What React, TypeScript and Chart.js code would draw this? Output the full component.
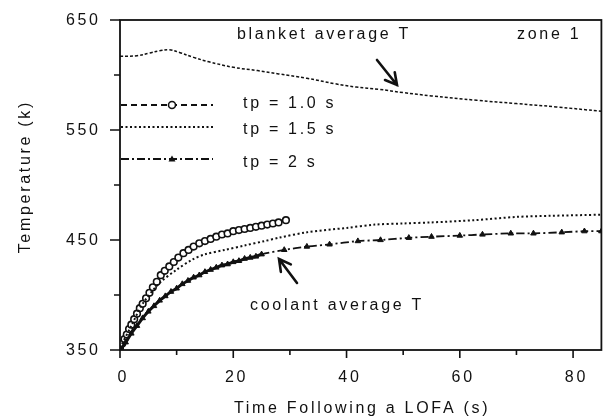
import React, { useEffect, useRef } from "react";
import { Chart, registerables } from "chart.js";

Chart.register(...registerables);

// ---- data ----
const blanketTime = [0, 3, 5.2, 7, 8.7, 10.5, 13, 15.7, 20, 24.3, 28, 33, 38, 41.7, 45.7, 50, 55, 63, 70, 77, 85];
const blanketTemp = [617, 617.5, 620, 622, 623, 620.5, 616, 612, 607, 604, 601, 597, 592, 589, 587, 584, 581, 577, 574, 571, 567];

const tp10Time = [0, 0.4, 0.8, 1.2, 1.6, 2.0, 2.5, 3.0, 3.5, 4.0, 4.6, 5.2, 5.8, 6.5, 7.2, 7.9, 8.7, 9.5, 10.3, 11.2, 12.1, 13, 14, 15, 16, 17, 18, 19, 20, 21, 22, 23, 24, 25, 26, 27, 28, 29.3];
const tp10Temp = [352, 356, 360, 364, 369, 373, 378, 383, 388, 392, 397, 402, 407, 412, 418, 422, 426, 430, 434, 438, 441, 444, 447, 449, 451, 453, 455, 456, 458, 459, 460, 461, 462, 463, 464, 465, 466, 468];

const tp15Time = [0, 2, 4, 7, 10, 12.7, 15, 18.5, 22, 25.5, 28, 33, 40, 45, 50, 55, 62.6, 70, 76, 85];
const tp15Temp = [352, 372, 392, 411, 423, 432, 437, 441, 445, 449, 452, 457, 461, 464, 465, 466, 468, 471, 472, 473];

const tp20Time = [0, 1, 2, 3, 4, 5, 6, 7, 8, 9, 10, 11, 12, 13, 14, 15, 16, 17, 18, 19, 20, 21, 22, 23, 24, 25, 29, 33, 37, 42, 46, 51, 55, 60, 64, 69, 73, 78, 82, 85];
const tp20Temp = [350, 357, 365, 372, 379, 385, 390, 395, 399, 403, 406, 410, 413, 416, 418, 421, 423, 425, 427, 428, 430, 431, 433, 434, 435, 437, 441, 444, 446, 449, 450, 452, 453, 454, 455, 456, 456, 457, 458, 458];
const tp20DenseUntil = 25;

const xMajorTicks = [0, 20, 40, 60, 80];
const xMinorTicks = [10, 30, 50, 70];
const yMajorTicks = [350, 450, 550, 650];
const yMinorTicks = [400, 500, 600];

const legendLabels = ["tp = 1.0 s", "tp = 1.5 s", "tp = 2 s"];
const xTitle = "Time Following a LOFA (s)";
const yTitle = "Temperature (k)";
const blanketNote = "blanket average T";
const coolantNote = "coolant average T";
const zoneNote = "zone 1";

const INK = "#111";
const FONT = '16px "Liberation Sans", Arial, sans-serif';
const LS = 2.7;

const pts = (xs: number[], ys: number[]) => xs.map((x, i) => ({ x, y: ys[i] }));

function drawArrow(ctx: CanvasRenderingContext2D, x0: number, y0: number, x1: number, y1: number) {
  const a = Math.atan2(y1 - y0, x1 - x0);
  const h = 13;
  ctx.save();
  ctx.strokeStyle = INK;
  ctx.lineWidth = 2.6;
  ctx.lineCap = "round";
  ctx.setLineDash([]);
  ctx.beginPath();
  ctx.moveTo(x0, y0);
  ctx.lineTo(x1, y1);
  ctx.moveTo(x1 + h * Math.cos(a + Math.PI - 0.5), y1 + h * Math.sin(a + Math.PI - 0.5));
  ctx.lineTo(x1, y1);
  ctx.lineTo(x1 + h * Math.cos(a + Math.PI + 0.5), y1 + h * Math.sin(a + Math.PI + 0.5));
  ctx.stroke();
  ctx.restore();
}

const decorPlugin = {
  id: "decor",
  afterDraw(chart: any) {
    const ctx: CanvasRenderingContext2D = chart.ctx;
    const { left, right, top, bottom } = chart.chartArea;
    const xs = chart.scales.x;
    const ys = chart.scales.y;
    ctx.save();
    (ctx as any).letterSpacing = LS + "px";
    ctx.fillStyle = INK;
    ctx.strokeStyle = INK;
    ctx.font = FONT;

    // frame
    ctx.lineWidth = 1.8;
    ctx.strokeRect(left, top, right - left, bottom - top);

    // ticks
    ctx.lineWidth = 1.6;
    ctx.beginPath();
    yMajorTicks.forEach((v) => {
      const y = ys.getPixelForValue(v);
      ctx.moveTo(left - 10, y);
      ctx.lineTo(left, y);
    });
    yMinorTicks.forEach((v) => {
      const y = ys.getPixelForValue(v);
      ctx.moveTo(left - 6, y);
      ctx.lineTo(left, y);
    });
    xMajorTicks.forEach((v) => {
      const x = xs.getPixelForValue(v);
      ctx.moveTo(x, bottom);
      ctx.lineTo(x, bottom + 8);
    });
    xMinorTicks.forEach((v) => {
      const x = xs.getPixelForValue(v);
      ctx.moveTo(x, bottom);
      ctx.lineTo(x, bottom + 5);
    });
    ctx.stroke();

    // tick labels
    ctx.textAlign = "right";
    ctx.textBaseline = "middle";
    yMajorTicks.forEach((v) => {
      ctx.fillText(String(v), 98 + LS, ys.getPixelForValue(v) + 1);
    });
    ctx.textAlign = "center";
    ctx.textBaseline = "alphabetic";
    xMajorTicks.forEach((v) => {
      ctx.fillText(String(v), xs.getPixelForValue(v) + LS / 2 + 2, 382);
    });

    // axis titles
    ctx.fillText(xTitle, (left + right) / 2 + LS / 2, 413);
    ctx.save();
    ctx.translate(30, 178);
    ctx.rotate(-Math.PI / 2);
    ctx.fillText(yTitle, LS / 2, 0);
    ctx.restore();

    // notes
    ctx.textAlign = "left";
    ctx.fillText(blanketNote, 237, 39);
    ctx.fillText(zoneNote, 517, 39);
    ctx.fillText(coolantNote, 250, 310);

    // legend
    const rowsLine = [105, 127, 159];
    const rowsText = [108, 134, 167];
    const dashes = [[6, 4], [2, 2.5], [8, 3, 2, 3]];
    legendLabels.forEach((lab, i) => {
      ctx.save();
      ctx.setLineDash(dashes[i]);
      ctx.lineWidth = i === 1 ? 1.8 : 1.8;
      ctx.beginPath();
      ctx.moveTo(121, rowsLine[i]);
      ctx.lineTo(213, rowsLine[i]);
      ctx.stroke();
      ctx.restore();
      ctx.fillText(lab, 243, rowsText[i]);
    });
    // legend markers
    ctx.save();
    ctx.setLineDash([]);
    ctx.lineWidth = 1.6;
    ctx.fillStyle = "#fff";
    ctx.beginPath();
    ctx.arc(172, rowsLine[0], 3.5, 0, Math.PI * 2);
    ctx.fill();
    ctx.stroke();
    ctx.fillStyle = INK;
    ctx.beginPath();
    ctx.moveTo(172, rowsLine[2] - 3.5);
    ctx.lineTo(175.5, rowsLine[2] + 2.5);
    ctx.lineTo(168.5, rowsLine[2] + 2.5);
    ctx.closePath();
    ctx.fill();
    ctx.restore();

    // arrows
    drawArrow(ctx, 377, 60, 397, 85);
    drawArrow(ctx, 297, 283, 279, 259);

    ctx.restore();
  },
};

export default function App() {
  const ref = useRef<HTMLCanvasElement>(null);
  useEffect(() => {
    if (!ref.current) return;
    const chart = new Chart(ref.current, {
      type: "line",
      data: {
        datasets: [
          {
            label: "blanket",
            data: pts(blanketTime, blanketTemp),
            borderColor: INK,
            borderWidth: 1.5,
            borderDash: [3, 2],
            pointRadius: 0,
            tension: 0.4,
          },
          {
            label: legendLabels[1],
            data: pts(tp15Time, tp15Temp),
            borderColor: INK,
            borderWidth: 2,
            borderDash: [2, 2.5],
            pointRadius: 0,
            tension: 0.3,
          },
          {
            label: legendLabels[2],
            data: pts(tp20Time, tp20Temp),
            borderColor: INK,
            borderWidth: 1.8,
            borderDash: [8, 3, 2, 3],
            segment: {
              borderDash: (c: any) => (c.p1.parsed.x <= tp20DenseUntil ? [] : undefined),
              borderWidth: (c: any) => (c.p1.parsed.x <= tp20DenseUntil ? 3 : undefined),
            },
            pointStyle: "triangle",
            pointRadius: 3.2,
            pointBorderWidth: 1,
            pointBackgroundColor: INK,
            pointBorderColor: INK,
            tension: 0.3,
          },
          {
            label: legendLabels[0],
            data: pts(tp10Time, tp10Temp),
            borderColor: INK,
            borderWidth: 1.5,
            borderDash: [6, 4],
            pointStyle: "circle",
            pointRadius: 3.3,
            pointBorderWidth: 1.6,
            pointBackgroundColor: "#fff",
            pointBorderColor: INK,
            tension: 0.3,
          },
        ],
      },
      options: {
        responsive: false,
        animation: false,
        layout: { padding: { left: 120, top: 20, right: 4, bottom: 68 } },
        plugins: { legend: { display: false }, tooltip: { enabled: false } },
        scales: {
          x: { type: "linear", min: 0, max: 85, display: false },
          y: { type: "linear", min: 350, max: 650, display: false },
        },
      },
      plugins: [decorPlugin],
    });
    return () => chart.destroy();
  }, []);
  return (
    <canvas
      ref={ref}
      width={607}
      height={418}
      style={{ position: "fixed", left: 0, top: 0, width: 607, height: 418, display: "block", background: "#fff" }}
    />
  );
}
